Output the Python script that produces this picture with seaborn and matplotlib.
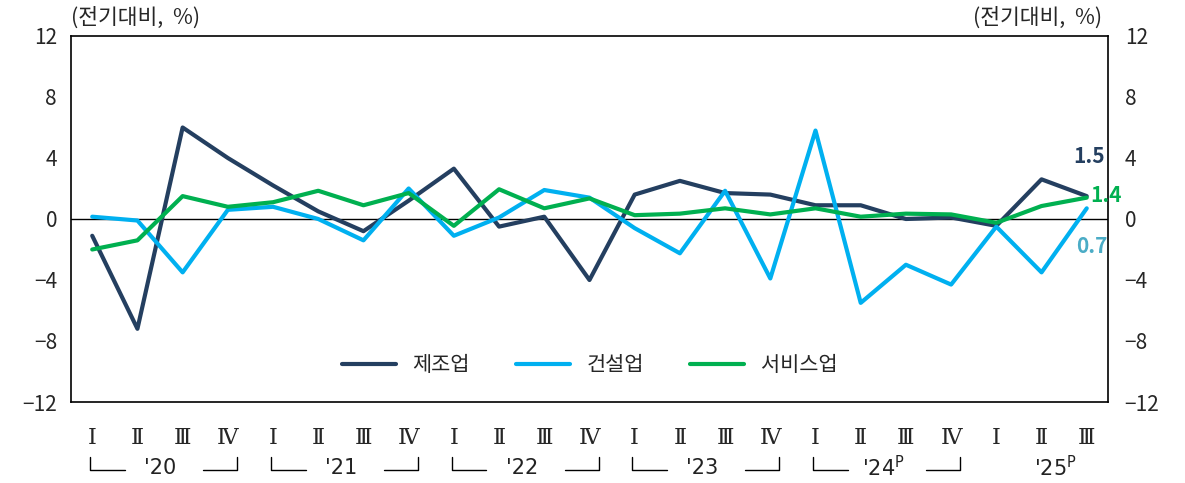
import numpy as np
import pandas as pd
import seaborn as sns
import matplotlib.pyplot as plt
import matplotlib.transforms as mtransforms

# quarterly growth (q/q, %) 2020 Q1 ~ 2025 Q3
quarters = ['Ⅰ', 'Ⅱ', 'Ⅲ', 'Ⅳ'] * 5 + ['Ⅰ', 'Ⅱ', 'Ⅲ']
years = ["'20", "'21", "'22", "'23", "'24$^{\\mathregular{P}}$", "'25$^{\\mathregular{P}}$"]

manufacturing = [-1.1, -7.2, 6.0, 4.0, 2.2, 0.5, -0.8, 1.2, 3.3, -0.5, 0.15, -4.0,
                 1.6, 2.5, 1.7, 1.6, 0.9, 0.9, 0.0, 0.1, -0.45, 2.6, 1.5]
construction = [0.15, -0.1, -3.5, 0.6, 0.8, 0.0, -1.4, 2.0, -1.1, 0.1, 1.9, 1.4,
                -0.6, -2.25, 1.85, -3.9, 5.8, -5.5, -3.0, -4.3, -0.5, -3.5, 0.7]
services = [-2.0, -1.4, 1.5, 0.8, 1.1, 1.85, 0.9, 1.7, -0.45, 1.95, 0.7, 1.35,
            0.25, 0.35, 0.7, 0.3, 0.7, 0.15, 0.35, 0.3, -0.25, 0.85, 1.4]

series_names = ['제조업', '건설업', '서비스업']
colors = ['#243F60', '#00B0F0', '#00B050']

n = len(quarters)
df = pd.DataFrame({
    'idx': list(range(n)) * 3,
    'value': manufacturing + construction + services,
    'series': [s for s in series_names for _ in range(n)],
})

sns.set_style('white')
plt.rcParams['font.family'] = ['Noto Sans CJK KR', 'DejaVu Sans']
plt.rcParams['axes.unicode_minus'] = True

fig = plt.figure(figsize=(11.85, 4.83), dpi=100)
ax = fig.add_axes([0.0599, 0.1677, 0.8751, 0.7578])

sns.lineplot(data=df, x='idx', y='value', hue='series', hue_order=series_names,
             palette=colors, linewidth=3, ax=ax, legend=True)

ax.axhline(0, color='black', linewidth=1, zorder=1)
ax.set_xlim(-0.47, 22.47)
ax.set_ylim(-12, 12)
yt = np.arange(-12, 13, 4)
ax.set_yticks(yt)
ax.set_yticklabels([str(v).replace('-', '−') for v in yt], fontsize=15)
ax.set_xticks(range(n))
ax.set_xticklabels(quarters, fontsize=16, family=['DejaVu Serif', 'Noto Sans CJK KR'])
ax.tick_params(axis='both', length=0, pad=10)
ax.tick_params(axis='x', pad=18)
ax.set_xlabel('')
ax.set_ylabel('')
for sp in ax.spines.values():
    sp.set_color('black')
    sp.set_linewidth(1.2)

ax2 = ax.twinx()
ax2.set_ylim(-12, 12)
ax2.set_yticks(yt)
ax2.set_yticklabels([str(v).replace('-', '−') for v in yt], fontsize=15)
ax2.tick_params(axis='y', length=0, pad=12)
for sp in ax2.spines.values():
    sp.set_visible(False)

# unit labels
fig.text(0.0599, 0.963, '(전기대비,  %)', fontsize=15.5, ha='left', va='center')
fig.text(0.93, 0.963, '(전기대비,  %)', fontsize=15.5, ha='right', va='center')

# legend
ax.legend(loc='center', bbox_to_anchor=(0.5, 0.1), ncol=3, frameon=False,
          fontsize=15, handlelength=2.6, columnspacing=2.2)

# last values
ax.text(22.4, manufacturing[-1] + 2.6, f'{manufacturing[-1]:.1f}', color='#243F60',
        fontsize=15, ha='right', va='center', fontweight='bold')
ax.text(22.08, services[-1] + 0.15, f'{services[-1]:.1f}', color='#00B050',
        fontsize=15, ha='left', va='center', fontweight='bold')
ax.text(22.45, construction[-1] - 2.5, f'{construction[-1]:.1f}', color='#4BACC6',
        fontsize=15, ha='right', va='center', fontweight='bold')

# year brackets under quarter labels
trans = mtransforms.blended_transform_factory(ax.transData, ax.transAxes)
y_line = -0.185
y_top = -0.15
for i, yr in enumerate(years):
    g = i * 4
    if i < 5:
        ax.plot([g - 0.05, g - 0.05, g + 0.72], [y_top, y_line, y_line], color='black',
                lw=1, transform=trans, clip_on=False)
        ax.plot([g + 2.45, g + 3.2, g + 3.2], [y_line, y_line, y_top], color='black',
                lw=1, transform=trans, clip_on=False)
        xc = g + 1.5
    else:
        xc = g + 1.3
    ax.text(xc, y_line + 0.005, yr, transform=trans, ha='center', va='center',
            fontsize=15, family='DejaVu Sans', color='#222222')

fig.savefig('out.png', dpi=100)
